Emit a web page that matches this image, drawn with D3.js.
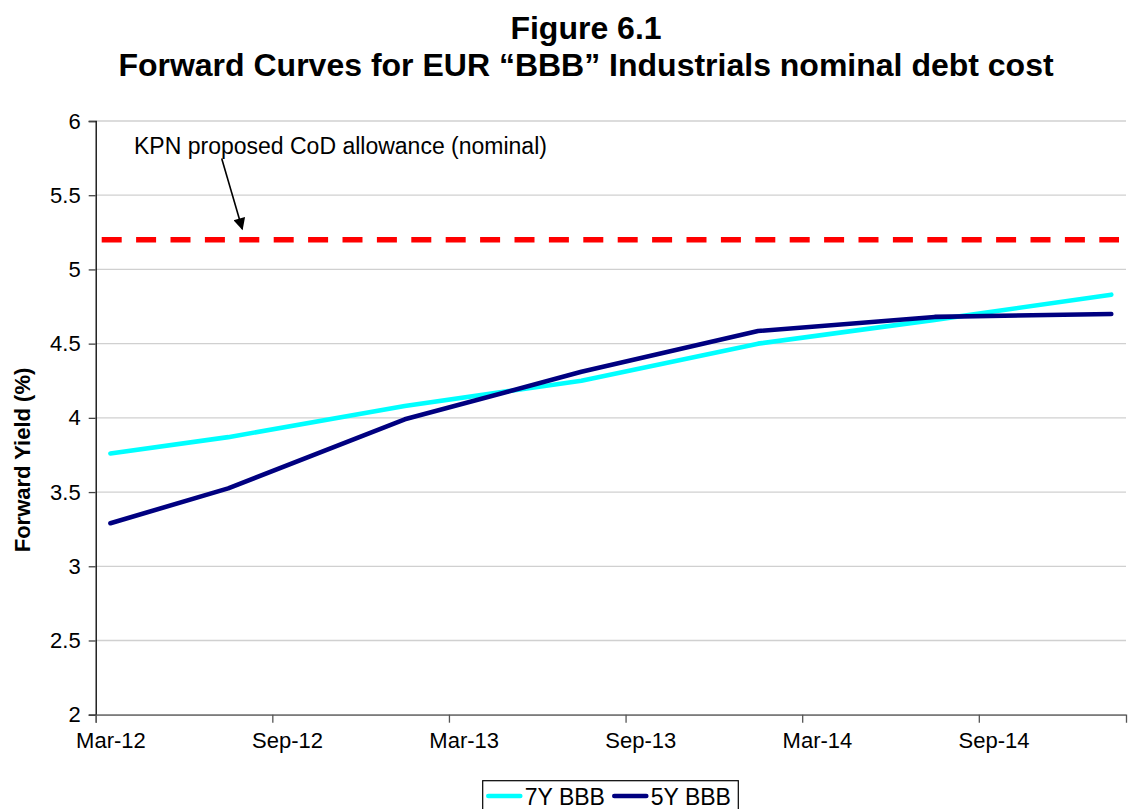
<!DOCTYPE html>
<html>
<head>
<meta charset="utf-8">
<script src="https://cdn.jsdelivr.net/npm/d3@7"></script>
<style>
  html, body { margin: 0; padding: 0; background: #fff; }
  svg { display: block; font-family: Arial, "Liberation Sans", sans-serif; }
</style>
</head>
<body>
<svg id="chart" width="1130" height="809"></svg>
<script>
// ---- data ----
const titleLines = ["Figure 6.1", "Forward Curves for EUR \u201CBBB\u201D Industrials nominal debt cost"];
const yLabel = "Forward Yield (%)";
const dates = ["2012-03", "2012-07", "2013-01", "2013-07", "2014-01", "2014-07", "2015-01"];
const sevenY = [3.76, 3.87, 4.08, 4.25, 4.50, 4.66, 4.83];
const fiveY = [3.29, 3.525, 3.99, 4.31, 4.585, 4.68, 4.70];
const allowance = 5.2;
const annotationText = "KPN proposed CoD allowance (nominal)";
const xTickLabels = ["Mar-12", "Sep-12", "Mar-13", "Sep-13", "Mar-14", "Sep-14"];
const yTicks = [2, 2.5, 3, 3.5, 4, 4.5, 5, 5.5, 6];
const seriesNames = ["7Y BBB", "5Y BBB"];
const seriesColors = ["#00FFFF", "#000080"];
const axisStart = "2012-03";
const axisMonths = 35;

// ---- layout ----
const svg = d3.select("#chart");
const L = 95.7, R = 1126, T = 121, B = 714.7;
const parse = d3.timeParse("%Y-%m");
const start = parse(axisStart);
const mIdx = s => d3.timeMonth.count(start, parse(s));

const x = d3.scaleLinear().domain([0, axisMonths]).range([L, R]);
const y = d3.scaleLinear().domain([2, 6]).range([B, T]);
const slot = x(1) - x(0);

// gridlines
svg.append("g").selectAll("line").data(yTicks).join("line")
  .attr("x1", L).attr("x2", R)
  .attr("y1", d => y(d)).attr("y2", d => y(d))
  .attr("stroke", "#d0d0d0").attr("stroke-width", 1.3);

// y axis
const yAxis = svg.append("g").attr("transform", `translate(${L},0)`)
  .call(d3.axisLeft(y).tickValues(yTicks).tickSize(7).tickPadding(8)
    .tickFormat(d => d3.format("")(d)));
yAxis.select(".domain").attr("stroke", "#000").attr("stroke-width", 1.3);
yAxis.selectAll(".tick line").attr("stroke", "#444").attr("stroke-width", 1.3);
yAxis.selectAll("text").attr("font-size", 22).attr("fill", "#000")
  .attr("font-family", "Arial, 'Liberation Sans', sans-serif");

// x axis
const xTickVals = xTickLabels.map((d, i) => i * 6);
const xAxis = svg.append("g").attr("transform", `translate(0,${B})`)
  .call(d3.axisBottom(x).tickValues(xTickVals).tickSize(8).tickPadding(10)
    .tickFormat((d, i) => xTickLabels[i]));
xAxis.select(".domain").attr("stroke", "#555").attr("stroke-width", 1.3);
xAxis.selectAll(".tick line").attr("stroke", "#555").attr("stroke-width", 1.3);
xAxis.selectAll("text").attr("font-size", 22).attr("fill", "#000")
  .attr("x", slot / 2)
  .attr("font-family", "Arial, 'Liberation Sans', sans-serif");

// allowance dashed line
svg.append("line")
  .attr("x1", x(0) + 6).attr("x2", x(axisMonths) - 7)
  .attr("y1", y(allowance)).attr("y2", y(allowance))
  .attr("stroke", "#FF0000").attr("stroke-width", 5.5)
  .attr("stroke-dasharray", "20,14.4");

// series lines
const line = d3.line().x(d => x(d.m + 0.5)).y(d => y(d.v));
[sevenY, fiveY].forEach((vals, i) => {
  const pts = vals.map((v, j) => ({ m: mIdx(dates[j]), v }));
  svg.append("path").datum(pts)
    .attr("d", line)
    .attr("fill", "none")
    .attr("stroke", seriesColors[i])
    .attr("stroke-width", 4.6)
    .attr("stroke-linecap", "round")
    .attr("stroke-linejoin", "round");
});

// annotation
svg.append("text").attr("x", 134).attr("y", 153.5)
  .attr("font-size", 23).attr("fill", "#000").text(annotationText);
const defs = svg.append("defs");
defs.append("marker").attr("id", "arrow")
  .attr("viewBox", "0 0 10 10").attr("refX", 9).attr("refY", 5)
  .attr("markerWidth", 14).attr("markerHeight", 12).attr("orient", "auto")
  .attr("markerUnits", "userSpaceOnUse")
  .append("path").attr("d", "M0,0 L10,5 L0,10 Z").attr("fill", "#000");
svg.append("line")
  .attr("x1", 221.7).attr("y1", 158.5).attr("x2", 242.3).attr("y2", 229)
  .attr("stroke", "#000").attr("stroke-width", 1.6)
  .attr("marker-end", "url(#arrow)");

// title
svg.append("text").attr("x", 586).attr("y", 39)
  .attr("text-anchor", "middle").attr("font-size", 32).attr("font-weight", "bold")
  .text(titleLines[0]);
svg.append("text").attr("x", 586).attr("y", 76)
  .attr("text-anchor", "middle").attr("font-size", 32).attr("font-weight", "bold")
  .text(titleLines[1]);

// y label
svg.append("text")
  .attr("transform", `translate(30,${460}) rotate(-90)`)
  .attr("text-anchor", "middle").attr("font-size", 22).attr("font-weight", "bold")
  .text(yLabel);

// legend
const lg = svg.append("g");
lg.append("rect").attr("x", 482.7).attr("y", 780.7).attr("width", 255.6).attr("height", 40)
  .attr("fill", "#fff").attr("stroke", "#000").attr("stroke-width", 1.2);
const legX = [488.3, 614.3];
seriesNames.forEach((n, i) => {
  lg.append("line").attr("x1", legX[i]).attr("x2", legX[i] + 32)
    .attr("y1", 796).attr("y2", 796)
    .attr("stroke", seriesColors[i]).attr("stroke-width", 4.6).attr("stroke-linecap", "round");
  lg.append("text").attr("x", legX[i] + 36.5).attr("y", 804.5)
    .attr("font-size", 23).text(n);
});
</script>
</body>
</html>
